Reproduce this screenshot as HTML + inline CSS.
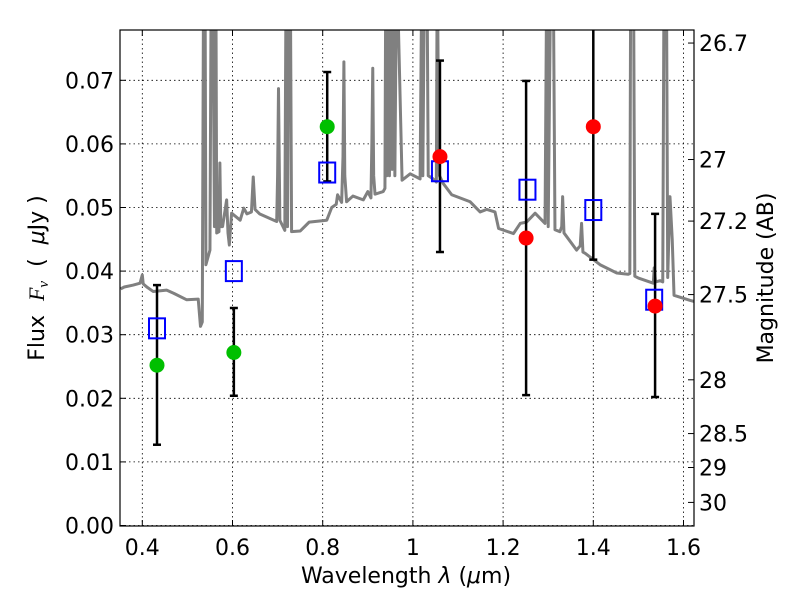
<!DOCTYPE html>
<html><head><meta charset="utf-8"><style>
body{margin:0;background:#fff}
svg text{font-family:"DejaVu Sans","Liberation Sans",sans-serif;fill:#000}
</style></head><body>
<svg id="chart" width="800" height="600">
<defs><clipPath id="clip"><rect x="120" y="30" width="574" height="496"/></clipPath></defs>
<rect x="0" y="0" width="800" height="600" fill="#fff"/>
<g id="grid"></g>
<g id="spec" clip-path="url(#clip)"></g>
<g id="marks" clip-path="url(#clip)"></g>
<rect x="120" y="30" width="574" height="496" fill="none" stroke="#000" stroke-width="1.2"/>
<g id="axes"></g>
<text x="406" y="583" font-size="22" text-anchor="middle">Wavelength  <tspan font-style="italic">λ</tspan> (<tspan font-style="italic">μ</tspan>m)</text>
<text transform="translate(44,278) rotate(-90)" font-size="22" text-anchor="middle" xml:space="preserve">Flux  <tspan font-family="Liberation Serif" font-style="italic">F<tspan font-size="15" dy="4">ν</tspan></tspan><tspan dy="-4">  (  </tspan><tspan font-style="italic">μ</tspan>Jy )</text>
<text transform="translate(773,278) rotate(-90)" font-size="22" text-anchor="middle">Magnitude (AB)</text>
</svg>
<script>
const xTicks=[0.4,0.6,0.8,1.0,1.2,1.4,1.6];
const xTickLabels=["0.4","0.6","0.8","1","1.2","1.4","1.6"];
const yTicks=[0,0.01,0.02,0.03,0.04,0.05,0.06,0.07];
const yTickLabels=["0.00","0.01","0.02","0.03","0.04","0.05","0.06","0.07"];
const magTicks=[26.7,27,27.2,27.5,28,28.5,29,30];
const magLabels=["26.7","27","27.2","27.5","28","28.5","29","30"];
const specWave=[0.352,0.36,0.38,0.395,0.4,0.402,0.41,0.424,0.454,0.47,0.498,0.524,0.529,0.533,0.536,0.539,0.541,0.550,0.553,0.556,0.560,0.563,0.565,0.570,0.572,0.574,0.578,0.587,0.590,0.593,0.598,0.617,0.625,0.632,0.642,0.646,0.650,0.66,0.698,0.700,0.702,0.705,0.716,0.719,0.722,0.725,0.728,0.731,0.75,0.77,0.809,0.82,0.83,0.833,0.842,0.845,0.847,0.849,0.853,0.867,0.89,0.9,0.907,0.909,0.911,0.913,0.916,0.934,0.938,0.940,0.942,0.946,0.948,0.952,0.954,0.958,0.960,0.964,0.976,0.994,1.016,1.020,1.022,1.026,1.031,1.034,1.045,1.052,1.054,1.056,1.059,1.067,1.086,1.127,1.149,1.164,1.182,1.190,1.223,1.238,1.252,1.271,1.293,1.297,1.300,1.306,1.311,1.315,1.326,1.330,1.332,1.335,1.363,1.371,1.374,1.377,1.382,1.415,1.452,1.477,1.481,1.483,1.489,1.492,1.5,1.533,1.535,1.538,1.548,1.554,1.557,1.562,1.565,1.570,1.575,1.579,1.614,1.625];
const specFlux=[0.0372,0.0375,0.0378,0.0381,0.0394,0.038,0.0375,0.0368,0.037,0.0365,0.0355,0.0356,0.0313,0.032,0.09,0.09,0.041,0.0433,0.09,0.09,0.047,0.09,0.046,0.0462,0.057,0.047,0.047,0.0512,0.046,0.0441,0.0491,0.048,0.0499,0.049,0.0493,0.0548,0.0497,0.049,0.0478,0.055,0.0687,0.048,0.0464,0.09,0.047,0.09,0.09,0.0462,0.0463,0.0477,0.048,0.050,0.0505,0.052,0.0508,0.058,0.0729,0.055,0.0509,0.0518,0.0512,0.0525,0.0515,0.06,0.0719,0.055,0.0521,0.0525,0.053,0.09,0.055,0.09,0.055,0.09,0.056,0.09,0.055,0.09,0.0543,0.0553,0.0545,0.09,0.055,0.09,0.09,0.055,0.0545,0.054,0.09,0.0714,0.055,0.0538,0.052,0.0509,0.0493,0.0497,0.0493,0.0467,0.0459,0.0475,0.0477,0.0491,0.0475,0.09,0.047,0.09,0.09,0.0465,0.0462,0.047,0.0517,0.046,0.0433,0.044,0.0475,0.043,0.0428,0.041,0.0397,0.0395,0.0396,0.09,0.09,0.0392,0.0389,0.0381,0.0405,0.0383,0.0385,0.0383,0.09,0.09,0.039,0.0517,0.045,0.0362,0.0354,0.0352];
const greenWave=[0.4326,0.603,0.81];
const greenFlux=[0.0252,0.0272,0.0627];
const redWave=[1.06,1.251,1.40,1.537];
const redFlux=[0.0580,0.0452,0.0627,0.0345];
const modelWave=[0.4326,0.603,0.81,1.06,1.254,1.40,1.535];
const modelFlux=[0.031,0.040,0.0555,0.0557,0.0528,0.0496,0.0355];
const errWave=[0.4326,0.603,0.81,1.06,1.251,1.40,1.537];
const errLow=[0.0127,0.0204,0.0541,0.043,0.0205,0.0418,0.0202];
const errHigh=[0.0378,0.0342,0.0713,0.0731,0.0699,0.085,0.049];
const NS='http://www.w3.org/2000/svg';
const X=v=>142.3+(v-0.4)*451;
const Y=v=>525.5-v*6360;
const magToFlux=m=>Math.pow(10,(23.9-m)/2.5);
function mk(t,a,p){const e=document.createElementNS(NS,t);for(const k in a)e.setAttribute(k,a[k]);p.appendChild(e);return e;}
const grid=document.getElementById('grid'),axes=document.getElementById('axes'),spec=document.getElementById('spec'),marks=document.getElementById('marks');
xTicks.forEach((v,i)=>{
  const g=mk('line',{x1:X(v),x2:X(v),y1:30,y2:526,stroke:'#000','stroke-width':0.8,'stroke-dasharray':'1.5,3'},grid);
  
  
  mk('line',{x1:X(v),x2:X(v),y1:526,y2:520,stroke:'#000'},axes);
  mk('line',{x1:X(v),x2:X(v),y1:30,y2:36,stroke:'#000'},axes);
  const t=mk('text',{x:X(v),y:555,'font-size':22,'text-anchor':'middle'},axes);
  t.textContent=xTickLabels[i];
  
  
});
yTicks.forEach((v,i)=>{
  const g=mk('line',{x1:120,x2:694,y1:Y(v),y2:Y(v),stroke:'#000','stroke-width':0.8,'stroke-dasharray':'1.5,3'},grid);
  
  
  mk('line',{x1:120,x2:126,y1:Y(v),y2:Y(v),stroke:'#000'},axes);
  const t=mk('text',{x:114,y:Y(v)+8,'font-size':22,'text-anchor':'end'},axes);
  t.textContent=yTickLabels[i];
  
  
});
magTicks.forEach((m,i)=>{
  const y=Y(magToFlux(m));
  mk('line',{x1:694,x2:688,y1:y,y2:y,stroke:'#000'},axes);
  const t=mk('text',{x:699,y:y+8,'font-size':22},axes);
  t.textContent=magLabels[i];
  
  
});
const sp=mk('polyline',{points:specWave.map((w,i)=>X(w)+','+Y(specFlux[i])).join(' '),fill:'none',stroke:'#808080','stroke-width':3,'stroke-linejoin':'round'},spec);


errWave.forEach((w,i)=>{
  const x=X(w);
  const l=mk('line',{x1:x,x2:x,y1:Y(errLow[i]),y2:Y(errHigh[i]),stroke:'#000','stroke-width':2.5},marks);
  
  
  [errLow[i],errHigh[i]].forEach(v=>mk('line',{x1:x-4,x2:x+4,y1:Y(v),y2:Y(v),stroke:'#000','stroke-width':2.5},marks));
});
modelWave.forEach((w,i)=>{
  const r=mk('rect',{x:X(w)-8,y:Y(modelFlux[i])-10,width:16,height:20,fill:'none',stroke:'#0000ff','stroke-width':2},marks);
  
  
});
greenWave.forEach((w,i)=>{
  const c=mk('circle',{cx:X(w),cy:Y(greenFlux[i]),r:7.5,fill:'#00bf00'},marks);
  
  
});
redWave.forEach((w,i)=>{
  const c=mk('circle',{cx:X(w),cy:Y(redFlux[i]),r:7.5,fill:'#ff0000'},marks);
  
  
});
</script>
</body></html>
